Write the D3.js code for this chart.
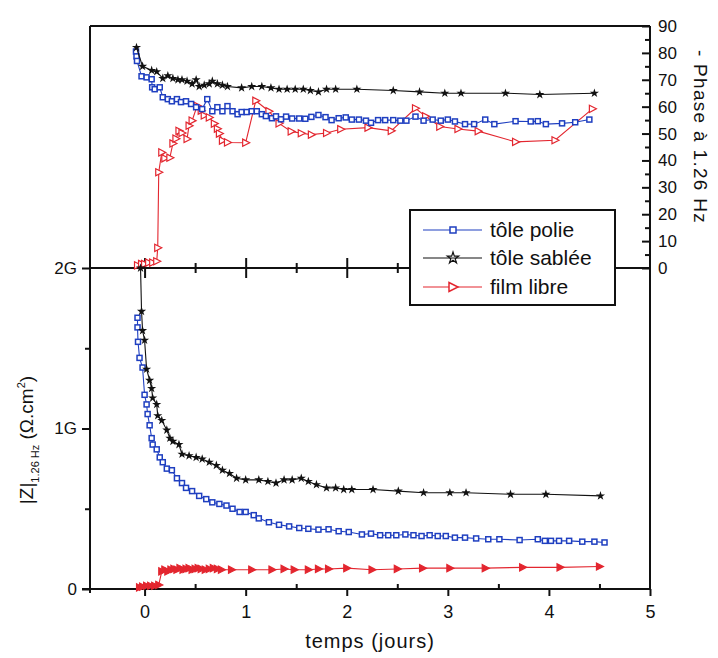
<!DOCTYPE html>
<html><head><meta charset="utf-8">
<script src="https://cdn.jsdelivr.net/npm/d3@7"></script>
<style>
body{margin:0;background:#fff}
svg{display:block}
text{font-family:"Liberation Sans",Arial,Helvetica,sans-serif;fill:#111}
</style>
</head><body>
<svg id="chart" width="718" height="658"></svg>
<script>
// ---------- DATA ----------
const seriesNames = ["tôle polie", "tôle sablée", "film libre"];
const xTicks = [0, 1, 2, 3, 4, 5];
const zTicks = [0, 1, 2];
const zTickLabels = ["0", "1G", "2G"];
const phaseTicks = [0, 10, 20, 30, 40, 50, 60, 70, 80, 90];

// top panel: - phase (deg) vs time (days)
const poliePhase = [[-0.085,80.5],[-0.08,78.7],[-0.075,77],[-0.03,71.3],[0.02,70.9],[0.07,70.2],[0.075,67.2],[0.1,66.5],[0.15,67.2],[0.18,63.5],[0.23,62.8],[0.27,62],[0.32,62.8],[0.36,61.7],[0.41,62],[0.46,61],[0.51,59.8],[0.57,59.1],[0.62,62.8],[0.67,58.3],[0.72,59.8],[0.77,58.3],[0.82,60.2],[0.87,58.3],[0.92,57.2],[0.96,58],[1.01,58],[1.06,58.3],[1.11,58.3],[1.16,57.2],[1.2,56.5],[1.26,55.7],[1.3,56.4],[1.35,55.3],[1.4,56.3],[1.46,55.6],[1.53,55.6],[1.59,55.5],[1.65,56.2],[1.72,56.9],[1.79,56.1],[1.85,55],[1.92,55.7],[1.99,56],[2.05,55.2],[2.12,55.2],[2.19,54.8],[2.24,54],[2.31,55],[2.38,55],[2.46,55],[2.53,54.8],[2.59,54.8],[2.68,56.3],[2.76,54.8],[2.85,55.2],[2.93,54.8],[3.0,55.2],[3.07,54.5],[3.17,53.5],[3.26,53.5],[3.37,55.2],[3.46,53.5],[3.67,54.6],[3.82,54.5],[3.89,54.6],[3.97,53.5],[4.13,53.8],[4.26,54.2],[4.4,55.2]];
const sableePhase = [[-0.08,82],[-0.02,75],[0.07,73.5],[0.12,73],[0.18,70.5],[0.23,71.5],[0.28,70.5],[0.33,70],[0.37,70],[0.42,69.5],[0.47,68.5],[0.51,70],[0.54,67.5],[0.59,68],[0.64,68.5],[0.67,69.5],[0.72,68.5],[0.77,68],[0.82,67.5],[0.96,67],[1.06,67.5],[1.16,67.5],[1.25,67],[1.33,66.5],[1.41,66.5],[1.49,66.5],[1.57,66.5],[1.64,66],[1.72,65.5],[1.8,66.5],[1.89,66.5],[2.1,66.5],[2.46,66],[2.72,65.5],[2.97,65],[3.13,65],[3.57,65],[3.91,64.5],[4.45,65]];
const libreePhase = [[-0.07,1],[-0.03,1.5],[0,1.5],[0.04,2],[0.08,2],[0.12,2.5],[0.13,7.5],[0.14,35.6],[0.17,43],[0.2,40.8],[0.25,41],[0.28,46.3],[0.31,48.1],[0.34,51],[0.37,50.2],[0.42,48],[0.44,52.9],[0.47,54.8],[0.52,60.3],[0.56,58.5],[0.59,56.7],[0.64,56],[0.69,53.7],[0.72,51.8],[0.74,50],[0.77,47.4],[0.82,46.7],[1.0,46.6],[1.1,62.2],[1.23,58.3],[1.33,53.8],[1.45,50.8],[1.55,50.1],[1.65,49.6],[1.8,50.2],[1.94,51.6],[2.21,52.2],[2.44,51],[2.68,59.4],[2.78,56.4],[2.92,52.6],[3.1,51.7],[3.3,50.9],[3.67,46.9],[4.06,47.5],[4.43,59.2]];

// bottom panel: |Z| at 1.26 Hz (G ohm.cm2) vs time (days)
const polieZ = [[-0.07,1.69],[-0.07,1.63],[-0.065,1.54],[-0.05,1.44],[-0.02,1.38],[0,1.21],[0.02,1.15],[0.03,1.09],[0.05,1.02],[0.07,0.94],[0.08,0.90],[0.12,0.87],[0.15,0.82],[0.18,0.79],[0.22,0.75],[0.27,0.74],[0.32,0.69],[0.37,0.66],[0.41,0.63],[0.47,0.61],[0.54,0.58],[0.61,0.56],[0.67,0.54],[0.74,0.53],[0.81,0.52],[0.87,0.50],[0.94,0.48],[1.0,0.48],[1.08,0.46],[1.13,0.44],[1.23,0.416],[1.33,0.40],[1.43,0.39],[1.53,0.38],[1.62,0.375],[1.72,0.37],[1.82,0.372],[1.92,0.36],[2.02,0.355],[2.15,0.34],[2.24,0.345],[2.33,0.335],[2.41,0.335],[2.49,0.335],[2.58,0.34],[2.66,0.335],[2.74,0.33],[2.82,0.335],[2.9,0.33],[2.98,0.33],[3.07,0.32],[3.17,0.32],[3.28,0.315],[3.4,0.31],[3.51,0.31],[3.71,0.305],[3.89,0.31],[3.96,0.30],[4.02,0.30],[4.1,0.30],[4.2,0.30],[4.33,0.295],[4.45,0.295],[4.55,0.29]];
const sableeZ = [[-0.04,2.0],[-0.03,1.73],[-0.02,1.61],[0,1.55],[0.02,1.37],[0.05,1.30],[0.07,1.25],[0.08,1.19],[0.12,1.15],[0.13,1.08],[0.17,1.05],[0.22,0.99],[0.25,0.94],[0.28,0.92],[0.34,0.90],[0.37,0.84],[0.44,0.83],[0.51,0.82],[0.57,0.81],[0.64,0.79],[0.71,0.77],[0.77,0.74],[0.84,0.72],[0.91,0.69],[1.0,0.68],[1.13,0.68],[1.22,0.67],[1.3,0.66],[1.38,0.68],[1.46,0.68],[1.55,0.69],[1.62,0.67],[1.7,0.65],[1.8,0.63],[1.89,0.63],[1.97,0.62],[2.05,0.62],[2.26,0.62],[2.51,0.61],[2.76,0.60],[3.02,0.60],[3.18,0.60],[3.62,0.59],[3.97,0.59],[4.51,0.58]];
const libreZ = [[-0.05,0.01],[-0.02,0.015],[0.02,0.02],[0.06,0.02],[0.1,0.02],[0.14,0.025],[0.17,0.11],[0.2,0.12],[0.23,0.11],[0.26,0.12],[0.29,0.125],[0.32,0.12],[0.35,0.13],[0.38,0.12],[0.41,0.125],[0.44,0.13],[0.47,0.12],[0.5,0.125],[0.53,0.13],[0.56,0.125],[0.6,0.12],[0.64,0.125],[0.68,0.13],[0.72,0.125],[0.76,0.12],[0.86,0.12],[1.06,0.12],[1.26,0.12],[1.38,0.125],[1.48,0.12],[1.62,0.12],[1.72,0.125],[1.82,0.125],[2.0,0.13],[2.25,0.12],[2.5,0.125],[2.75,0.13],[3.02,0.13],[3.37,0.13],[3.74,0.135],[4.11,0.135],[4.5,0.14]];

const colors = ["#1f3fc0", "#111111", "#e3262f"];

// ---------- CHART ----------
const svg = d3.select("#chart");
const L = 90, R = 650, T = 26, MID = 268, B = 589;

const x = d3.scaleLinear().domain([-0.54, 5]).range([L, R]);
const yZ = d3.scaleLinear().domain([0, 2]).range([B, MID]);
const yP = d3.scaleLinear().domain([0, 90]).range([MID, T]);

const frame = svg.append("g").attr("stroke", "#111").attr("stroke-width", 2).attr("fill", "none");
frame.append("line").attr("x1", L).attr("x2", R).attr("y1", T).attr("y2", T);
frame.append("line").attr("x1", L).attr("x2", L).attr("y1", T).attr("y2", B + 4);
frame.append("line").attr("x1", R).attr("x2", R).attr("y1", T).attr("y2", B);

function styleAxis(g, fs) {
  g.selectAll(".domain").remove();
  g.selectAll(".tick line").attr("stroke", "#111").attr("stroke-width", 2);
  g.selectAll(".tick text").attr("font-size", fs).attr("fill", "#111")
    .attr("font-family", '"Liberation Sans",Arial,sans-serif');
}
const halves = [0.5, 1.5, 2.5, 3.5, 4.5];

// bottom axis
svg.append("line").attr("x1", L - 8).attr("x2", R).attr("y1", B).attr("y2", B).attr("stroke", "#111").attr("stroke-width", 2);
svg.append("g").attr("transform", `translate(0,${B})`)
  .call(d3.axisBottom(x).tickValues(xTicks).tickSize(7).tickPadding(9).tickFormat(d3.format("d")))
  .call(g => styleAxis(g, 18));
svg.append("g").attr("transform", `translate(0,${B})`)
  .call(d3.axisTop(x).tickValues(halves).tickSize(5).tickFormat(""))
  .call(g => styleAxis(g, 0));

// middle line (2G / phase 0) with crossing ticks
svg.append("line").attr("x1", L).attr("x2", R).attr("y1", MID).attr("y2", MID).attr("stroke", "#111").attr("stroke-width", 2);
[d3.axisTop, d3.axisBottom].forEach(ax => {
  svg.append("g").attr("transform", `translate(0,${MID})`)
    .call(ax(x).tickValues(xTicks.slice(0, 5)).tickSize(10).tickFormat(""))
    .call(g => styleAxis(g, 0));
  svg.append("g").attr("transform", `translate(0,${MID})`)
    .call(ax(x).tickValues(halves).tickSize(5).tickFormat(""))
    .call(g => styleAxis(g, 0));
});

// left axis (|Z|)
svg.append("g").attr("transform", `translate(${L},0)`)
  .call(d3.axisLeft(yZ).tickValues(zTicks).tickSize(8).tickPadding(5).tickFormat((d, i) => zTickLabels[i]))
  .call(g => styleAxis(g, 17));
svg.append("g").attr("transform", `translate(${L},0)`)
  .call(d3.axisLeft(yZ).tickValues([0.5, 1.5]).tickSize(5).tickFormat(""))
  .call(g => styleAxis(g, 0));

// right axis (phase)
svg.append("g").attr("transform", `translate(${R},0)`)
  .call(d3.axisRight(yP).tickValues(phaseTicks).tickSizeInner(-8).tickSizeOuter(0).tickPadding(8))
  .call(g => styleAxis(g, 17));
svg.append("g").attr("transform", `translate(${R},0)`)
  .call(d3.axisRight(yP).tickValues(d3.range(5, 90, 10)).tickSizeInner(-5).tickSizeOuter(0).tickFormat(""))
  .call(g => styleAxis(g, 0));

// ---------- SERIES ----------
const starPath = d3.symbol().type(d3.symbolStar).size(26)();
const triPath = "M-3,-3.6L4,0L-3,3.6Z";

function drawSeries(data, yScale, idx, filledTri) {
  const g = svg.append("g");
  g.append("path").datum(data)
    .attr("fill", "none").attr("stroke", colors[idx]).attr("stroke-width", 1.1)
    .attr("d", d3.line().x(d => x(d[0])).y(d => yScale(d[1])));
  const pts = g.selectAll("g.pt").data(data).join("g")
    .attr("transform", d => `translate(${x(d[0])},${yScale(d[1])})`);
  if (idx === 0) {
    pts.append("rect").attr("x", -2.5).attr("y", -2.5).attr("width", 5).attr("height", 5)
      .attr("fill", "#fff").attr("stroke", colors[0]).attr("stroke-width", 1.5);
  } else if (idx === 1) {
    pts.append("path").attr("d", starPath).attr("fill", colors[1]);
  } else {
    pts.append("path").attr("d", triPath)
      .attr("fill", filledTri ? colors[2] : "#fff").attr("stroke", colors[2]).attr("stroke-width", 1.2);
  }
}
drawSeries(libreePhase, yP, 2, false);
drawSeries(poliePhase, yP, 0);
drawSeries(sableePhase, yP, 1);
drawSeries(libreZ, yZ, 2, true);
drawSeries(polieZ, yZ, 0);
drawSeries(sableeZ, yZ, 1);

// ---------- LEGEND ----------
const lg = svg.append("g");
lg.append("rect").attr("x", 410).attr("y", 210).attr("width", 205).attr("height", 95)
  .attr("fill", "#fff").attr("stroke", "#111").attr("stroke-width", 2);
const rowY = [230, 258, 287];
seriesNames.forEach((name, i) => {
  const gy = rowY[i];
  lg.append("line").attr("x1", 423).attr("x2", 482).attr("y1", gy).attr("y2", gy)
    .attr("stroke", colors[i]).attr("stroke-width", 1.2);
  const m = lg.append("g").attr("transform", `translate(453,${gy})`);
  if (i === 0) m.append("rect").attr("x", -3).attr("y", -3).attr("width", 6).attr("height", 6)
    .attr("fill", "#fff").attr("stroke", colors[0]).attr("stroke-width", 1.5);
  else if (i === 1) m.append("path").attr("d", d3.symbol().type(d3.symbolStar).size(40)()).attr("fill", "none").attr("stroke", colors[1]).attr("stroke-width", 1.2);
  else m.append("path").attr("d", "M-4,-4.5L5,0L-4,4.5Z").attr("fill", "#fff").attr("stroke", colors[2]).attr("stroke-width", 1.5);
  lg.append("text").attr("x", 490).attr("y", gy + 7).attr("font-size", 21).text(name);
});

// ---------- AXIS TITLES ----------
svg.append("text").attr("x", 370).attr("y", 648).attr("text-anchor", "middle")
  .attr("font-size", 20).attr("letter-spacing", 1).text("temps (jours)");

svg.append("text").attr("transform", "translate(701,137) rotate(90)")
  .attr("text-anchor", "middle").attr("font-size", 19).attr("letter-spacing", 1.3)
  .attr("dy", "0.35em")
  .text("- Phase à 1.26 Hz");

const zl = svg.append("text").attr("transform", "translate(33,440) rotate(-90)")
  .attr("text-anchor", "middle").attr("font-size", 19);
zl.append("tspan").text("|Z|");
zl.append("tspan").attr("font-size", 11).attr("dy", 6).text("1.26 Hz");
zl.append("tspan").attr("dy", -6).text(" (Ω.cm");
zl.append("tspan").attr("font-size", 11).attr("dy", -8).text("2");
zl.append("tspan").attr("dy", 8).text(")");
</script>
</body></html>
